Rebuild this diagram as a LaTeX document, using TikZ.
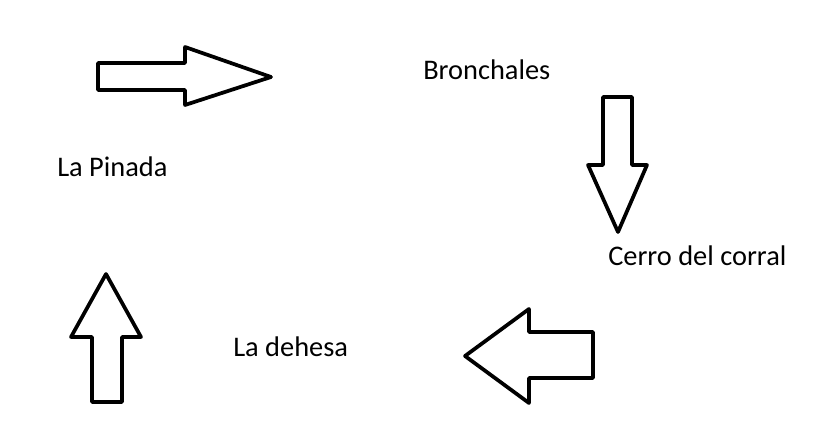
\documentclass[tikz,border=0pt]{standalone}
\usepackage{fontspec}
\setmainfont{Carlito}
\begin{document}
\begin{tikzpicture}[x=0.75pt,y=-0.75pt]
        \tikzset{place/.style={anchor=base west,inner sep=0pt,font=\fontsize{21.3}{25}\selectfont}}
        \tikzset{block arrow/.style={line width=2.8pt,line join=round}}
        \useasboundingbox (0,0) rectangle (815,438);
        \node[place] (pinada) at (57,177) {La Pinada};
        \node[place] (bronchales) at (423,80) {Bronchales};
        \node[place] (cerro) at (608,266) {Cerro del corral};
        \node[place] (dehesa) at (233,357) {La dehesa};
        \draw[block arrow] (98,63) -- (185,63) -- (185,47) -- (271,77) -- (185,105) -- (185,90) -- (98,90) -- cycle;
        \draw[block arrow] (603,97) -- (632,97) -- (632,165) -- (647,165) -- (618,232) -- (588,165) -- (603,165) -- cycle;
        \draw[block arrow] (593,332) -- (529,332) -- (529,309) -- (465,356) -- (529,403) -- (529,378) -- (593,378) -- cycle;
        \draw[block arrow] (92,402) -- (92,337) -- (71,337) -- (106,274) -- (141,337) -- (122,337) -- (122,402) -- cycle;
    \end{tikzpicture}
\end{document}
